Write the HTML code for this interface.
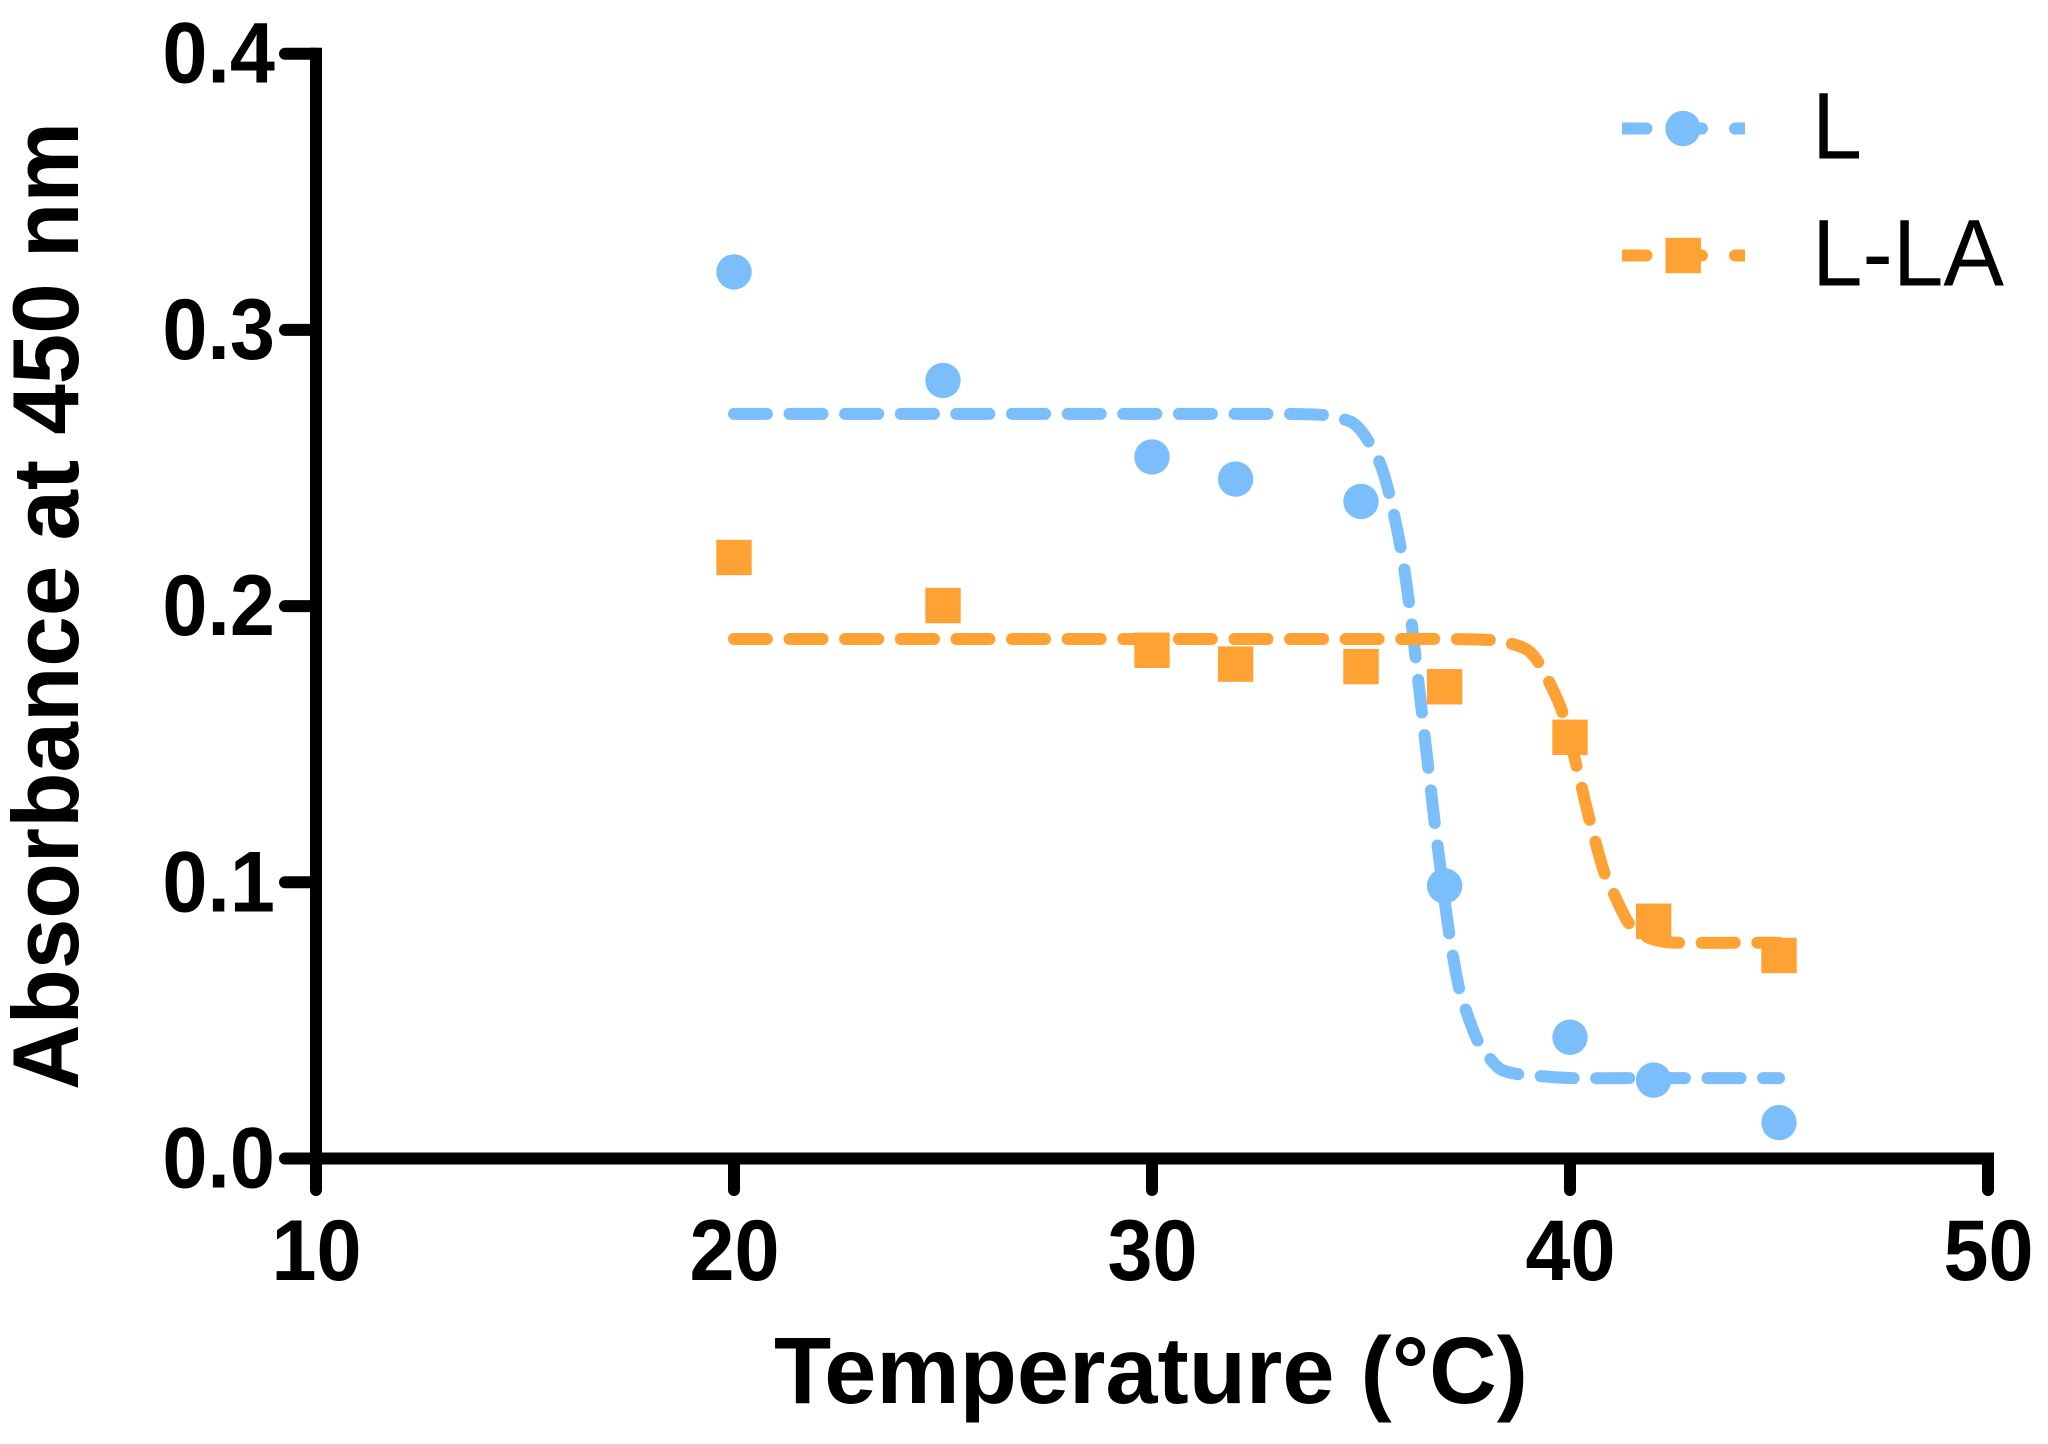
<!DOCTYPE html>
<html lang="en">
<head>
<meta charset="utf-8">
<title>Absorbance vs Temperature</title>
<style>
  html, body { margin: 0; padding: 0; background: #fff; }
  svg { display: block; }
  text { font-family: "Liberation Sans", Arial, sans-serif; fill: #000; }
  .bold { font-weight: 700; }
</style>
</head>
<body>
<svg id="chart" xmlns="http://www.w3.org/2000/svg" width="2048" height="1444" viewBox="0 0 2048 1444"></svg>
<script>
const xTicks = [10, 20, 30, 40, 50];
const yTicks = [0.0, 0.1, 0.2, 0.3, 0.4];
const yTickLabels = ["0.0", "0.1", "0.2", "0.3", "0.4"];
const xTickLabels = ["10", "20", "30", "40", "50"];

const temperatures = [20, 25, 30, 32, 35, 37, 40, 42, 45];
const valuesL = [0.321, 0.2817, 0.254, 0.246, 0.2379, 0.0987, 0.0439, 0.0284, 0.013];
const valuesLLA = [0.2176, 0.2002, 0.184, 0.179, 0.1781, 0.1708, 0.1525, 0.0859, 0.0735];

const curveTempsL = [20, 25, 30, 33, 34.09, 34.62, 34.9, 35.19, 35.45, 35.67, 35.95, 36.15, 36.37, 36.61, 36.83, 37.11, 37.34, 37.49, 37.77, 38.05, 38.33, 38.73, 39.24, 40.07, 42, 45];
const curveValuesL = [0.2696, 0.2696, 0.2696, 0.2696, 0.2692, 0.2675, 0.2652, 0.2594, 0.2519, 0.241, 0.221, 0.2011, 0.173, 0.1414, 0.1135, 0.0816, 0.0621, 0.0545, 0.0433, 0.0369, 0.0324, 0.0306, 0.0299, 0.0291, 0.0291, 0.0291];
const curveTempsLLA = [20, 25, 30, 35, 37, 38.12, 38.64, 39, 39.26, 39.52, 39.84, 40.17, 40.48, 40.84, 41.05, 41.27, 41.45, 41.83, 42.23, 42.67, 44, 45];
const curveValuesLLA = [0.1881, 0.1881, 0.1881, 0.1881, 0.1881, 0.1877, 0.1862, 0.1839, 0.1793, 0.172, 0.1606, 0.1413, 0.1219, 0.1026, 0.0958, 0.0888, 0.0845, 0.0803, 0.0785, 0.0781, 0.0781, 0.0781];

const BLUE = "#7abefb";
const ORANGE = "#ffa234";
const SVGNS = "http://www.w3.org/2000/svg";
const svg = document.getElementById("chart");

function xScale(t) { return 316 + (t - 10) * 41.8; }
function yScale(v) { return 1158.5 - v * 2762; }

function make(tag, attrs, parent) {
  const el = document.createElementNS(SVGNS, tag);
  for (const k in attrs) el.setAttribute(k, attrs[k]);
  (parent || svg).appendChild(el);
  return el;
}

function smoothPath(ts, vs) {
  const p = ts.map((t, i) => [xScale(t), yScale(vs[i])]);
  let d = "M" + p[0][0].toFixed(1) + " " + p[0][1].toFixed(1);
  for (let i = 0; i < p.length - 1; i++) {
    const p0 = p[Math.max(0, i - 1)], p1 = p[i], p2 = p[i + 1], p3 = p[Math.min(p.length - 1, i + 2)];
    const c1x = p1[0] + (p2[0] - p0[0]) / 6;
    const c1y = p1[1] + (p2[1] - p0[1]) / 6;
    const c2x = p2[0] - (p3[0] - p1[0]) / 6;
    const c2y = p2[1] - (p3[1] - p1[1]) / 6;
    const segLen = p2[0] - p1[0];
    const cx1 = Math.min(c1x, p1[0] + segLen / 2);
    const cx2 = Math.max(c2x, p2[0] - segLen / 2);
    d += "C" + cx1.toFixed(1) + " " + c1y.toFixed(1) + " " + cx2.toFixed(1) + " " + c2y.toFixed(1) + " " + p2[0].toFixed(1) + " " + p2[1].toFixed(1);
  }
  return d;
}

// Fit curves
const curveL = make("path", { d: smoothPath(curveTempsL, curveValuesL), fill: "none", stroke: BLUE, "stroke-width": 12, "stroke-linecap": "round", "stroke-dasharray": "33 22.6" });


const curveLLA = make("path", { d: smoothPath(curveTempsLLA, curveValuesLLA), fill: "none", stroke: ORANGE, "stroke-width": 12, "stroke-linecap": "round", "stroke-dasharray": "33 22.6" });



// Points
temperatures.forEach((t, i) => {
  const c = make("circle", { cx: xScale(t), cy: yScale(valuesL[i]), r: 17.7, fill: BLUE });
  
  
});
temperatures.forEach((t, i) => {
  const r = make("rect", { x: xScale(t) - 17.7, y: yScale(valuesLLA[i]) - 17.7, width: 35.4, height: 35.4, fill: ORANGE });
  
  
});

// Axes
const yAxisLine = make("rect", { x: xScale(10) - 6, y: yScale(0.4) - 6, width: 12, height: yScale(0) - yScale(0.4) + 12, fill: "#000" });


const xAxisLine = make("rect", { x: xScale(10) - 6, y: yScale(0) - 6, width: xScale(50) - xScale(10) + 12, height: 12, fill: "#000" });



yTicks.forEach((v, i) => {
  const y = yScale(v);
  const tick = make("line", { x1: 285, y1: y, x2: 316, y2: y, stroke: "#000", "stroke-width": 12, "stroke-linecap": "round" });
  
  
  const label = make("text", { x: 275, y: y + 29, "text-anchor": "end", "font-size": 86, class: "bold", textLength: 112.6, lengthAdjust: "spacingAndGlyphs" });
  label.textContent = yTickLabels[i];
  
  
});

xTicks.forEach((t, i) => {
  const x = xScale(t);
  const tick = make("line", { x1: x, y1: 1159, x2: x, y2: 1190, stroke: "#000", "stroke-width": 12, "stroke-linecap": "round" });
  
  
  const label = make("text", { x: x + 0.5, y: 1280, "text-anchor": "middle", "font-size": 86, class: "bold", textLength: 90, lengthAdjust: "spacingAndGlyphs" });
  label.textContent = xTickLabels[i];
  
  
});

// Axis titles
const xTitle = make("text", { x: 774, y: 1403, "font-size": 95, class: "bold", textLength: 754, lengthAdjust: "spacingAndGlyphs" });
xTitle.textContent = "Temperature (°C)";



const yTitle = make("text", { transform: "translate(78 1090) rotate(-90)", x: 0, y: 0, "font-size": 94, class: "bold", textLength: 968, lengthAdjust: "spacingAndGlyphs" });
yTitle.textContent = "Absorbance at 450 nm";



// Legend
function legendEntry(name, y, color, isCircle, label) {
  const g = make("g", {});
  
  
  make("rect", { x: 1622, y: y - 6, width: 24, height: 12, fill: color }, g);
  make("line", { x1: 1646, y1: y, x2: 1646.5, y2: y, stroke: color, "stroke-width": 12, "stroke-linecap": "round" }, g);
  make("line", { x1: 1680, y1: y, x2: 1702, y2: y, stroke: color, "stroke-width": 12, "stroke-linecap": "round" }, g);
  make("line", { x1: 1735, y1: y, x2: 1736, y2: y, stroke: color, "stroke-width": 12, "stroke-linecap": "round" }, g);
  make("rect", { x: 1735, y: y - 6, width: 10, height: 12, fill: color }, g);
  if (isCircle) {
    make("circle", { cx: 1683, cy: y, r: 17.7, fill: color }, g);
  } else {
    make("rect", { x: 1665.5, y: y - 17.7, width: 35.4, height: 35.4, fill: color }, g);
  }
  const t = make("text", { x: 1812, y: y + 30, "font-size": 95 }, g);
  t.textContent = label;
  return t;
}
const legendL = legendEntry("l", 128.5, BLUE, true, "L");
legendL.setAttribute('textLength', '50');
legendL.setAttribute('lengthAdjust', 'spacingAndGlyphs');


const legendLLA = legendEntry("l-la", 255.5, ORANGE, false, "L-LA");
legendLLA.setAttribute('textLength', '192');
legendLLA.setAttribute('lengthAdjust', 'spacingAndGlyphs');


</script>
</body>
</html>
